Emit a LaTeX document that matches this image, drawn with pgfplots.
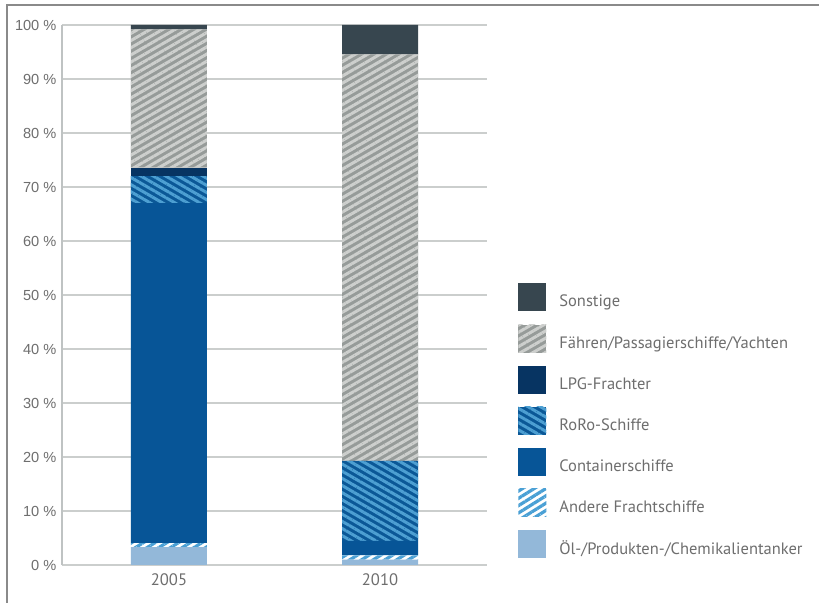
\documentclass[border=0pt]{standalone}
\usepackage{fontspec}
\setmainfont{PT Sans}
\newfontfamily\tickfont{Liberation Sans}
\usepackage{pgfplots}
\pgfplotsset{compat=1.18}
\usetikzlibrary{patterns.meta}
\definecolor{cSonst}{HTML}{37464F}
\definecolor{cFaehrBase}{HTML}{969B99}
\definecolor{cFaehrStr}{HTML}{CDCFCD}
\definecolor{cLPG}{HTML}{073462}
\definecolor{cRoRoBase}{HTML}{0B5897}
\definecolor{cRoRoStr}{HTML}{4D9FD2}
\definecolor{cCont}{HTML}{075597}
\definecolor{cAndStr}{HTML}{4AA0D5}
\definecolor{cOel}{HTML}{93B8D9}
\definecolor{framegray}{HTML}{8A8A8A}
\definecolor{gridgray}{HTML}{CBCECD}
\definecolor{axisgray}{HTML}{BFC3C3}
\definecolor{textgray}{HTML}{6E6E6E}
\begin{document}
\begin{tikzpicture}
\useasboundingbox (0,0) rectangle (409.5bp,301.5bp);
\fill[white] (0,0) rectangle (409.5bp,301.5bp);
\draw[framegray, line width=1bp] (3.25bp,0) -- (3.25bp,298.75bp) -- (409.5bp,298.75bp);
\begin{axis}[
  at={(31bp,19bp)}, anchor=south west,
  width=212.5bp, height=270bp, scale only axis,
  xmin=-0.507, xmax=1.507, ymin=0, ymax=100,
  ybar stacked, bar width=38bp,
  xtick={0,1}, xticklabels={2005,2010},
  ytick={0,10,...,100},
  yticklabel={\pgfmathprintnumber{\tick}~\%},
  /pgf/number format/assume math mode=true,
  separate axis lines,
  axis x line*=bottom, axis y line*=left,
  x axis line style={draw=none},
  y axis line style={-, draw=axisgray, line width=0.6bp},
  major tick length=0pt, tick style={draw=none},
  ymajorgrids, grid style={gridgray, line width=0.8bp},
  yticklabel style={font=\tickfont\fontsize{7.3bp}{8bp}\selectfont, text=textgray, inner sep=0pt, xshift=-2.6bp},
  xticklabel style={font=\fontsize{8.3bp}{9bp}\selectfont, text=textgray, inner sep=0pt, yshift=-4.2bp},
  reverse legend,
  legend style={at={(axis description cs:1.0729,0.5222)}, anchor=north west,
    draw=none, fill=none, inner sep=0pt, row sep=6.55bp, column sep=6.5bp,
    font=\fontsize{8.25bp}{10bp}\selectfont, text=textgray,
    nodes={inner sep=0pt}},
  legend cell align=left,
  legend image code/.code={\path[#1] (0bp,-4.4bp) rectangle (14bp,9.6bp);},
]
% 2005, 2010
\addplot[fill=cOel, draw=none] coordinates {(0,3.33) (1,1.0)};
\addlegendentry{Öl-/Produkten-/Chemikalientanker}
\addplot[fill=white, draw=none, postaction={pattern={Lines[angle=32,distance=3.1bp,line width=1.6bp]}, pattern color=cAndStr}] coordinates {(0,0.74) (1,0.8)};
\addlegendentry{Andere Frachtschiffe}
\addplot[fill=cCont, draw=none] coordinates {(0,62.93) (1,2.65)};
\addlegendentry{Containerschiffe}
\addplot[fill=cRoRoBase, draw=none, postaction={pattern={Lines[angle=-30,distance=3.1bp,line width=1.5bp]}, pattern color=cRoRoStr}] coordinates {(0,5.0) (1,14.81)};
\addlegendentry{RoRo-Schiffe}
\addplot[fill=cLPG, draw=none] coordinates {(0,1.6) (1,0)};
\addlegendentry{LPG-Frachter}
\addplot[fill=cFaehrBase, draw=none, postaction={pattern={Lines[angle=30,distance=3.1bp,line width=1.5bp]}, pattern color=cFaehrStr}] coordinates {(0,25.6) (1,75.31)};
\addlegendentry{Fähren/Passagierschiffe/Yachten}
\addplot[fill=cSonst, draw=none] coordinates {(0,0.8) (1,5.43)};
\addlegendentry{Sonstige}
\end{axis}
\end{tikzpicture}
\end{document}
